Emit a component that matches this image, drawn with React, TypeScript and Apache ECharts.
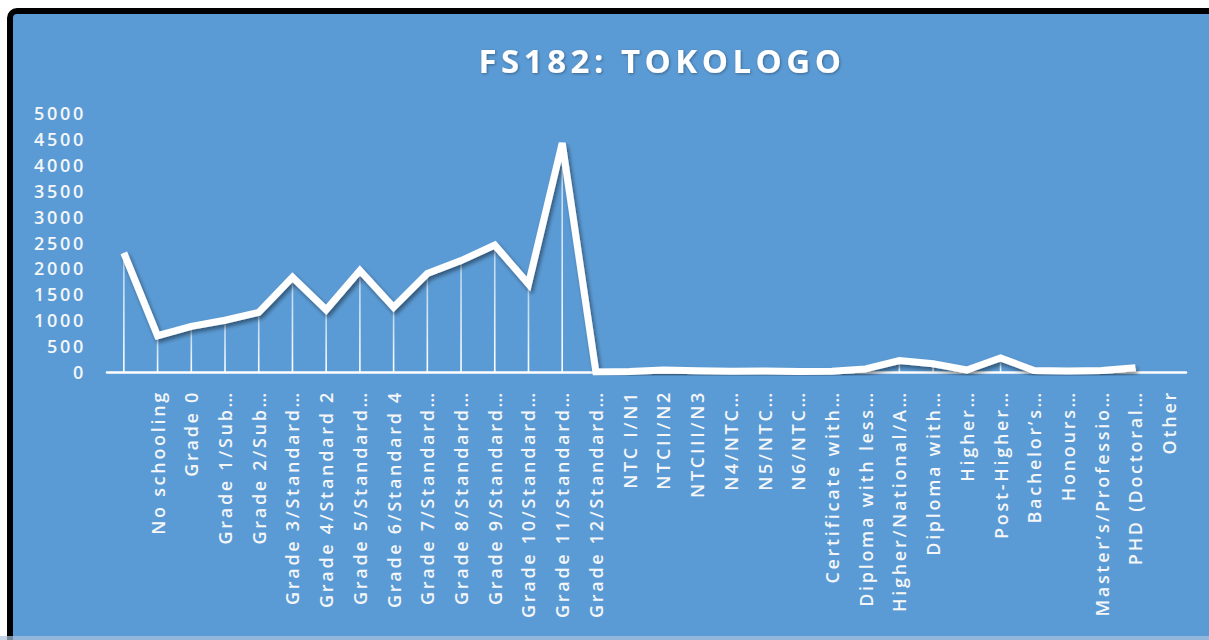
import React, { useEffect, useRef } from "react";
import * as echarts from "echarts";

const categories: string[] = [
  "",
  "No schooling",
  "Grade 0",
  "Grade 1/Sub…",
  "Grade 2/Sub…",
  "Grade 3/Standard…",
  "Grade 4/Standard 2",
  "Grade 5/Standard…",
  "Grade 6/Standard 4",
  "Grade 7/Standard…",
  "Grade 8/Standard…",
  "Grade 9/Standard…",
  "Grade 10/Standard…",
  "Grade 11/Standard…",
  "Grade 12/Standard…",
  "NTC I/N1",
  "NTCII/N2",
  "NTCIII/N3",
  "N4/NTC…",
  "N5/NTC…",
  "N6/NTC…",
  "Certificate with…",
  "Diploma with less…",
  "Higher/National/A…",
  "Diploma with…",
  "Higher…",
  "Post-Higher…",
  "Bachelor’s…",
  "Honours…",
  "Master’s/Professio…",
  "PHD (Doctoral…",
  "Other",
];

const values: (number | null)[] = [
  2300, 700, 880, 1000, 1150, 1830, 1200, 1960, 1250, 1900, 2150, 2450, 1700,
  4420, 0, 10, 40, 25, 15, 20, 10, 15, 60, 220, 160, 40, 270, 30, 20, 30, 80,
  null,
];

const yTicks = { min: 0, max: 5000, interval: 500 };
const chartTitle = "FS182: TOKOLOGO";

export default function App() {
  const ref = useRef<HTMLDivElement>(null);

  useEffect(() => {
    if (!ref.current) return;
    const chart = echarts.init(ref.current, undefined, { renderer: "svg" });
    const textColor = "#F4F6F8";
    chart.setOption({
      animation: false,
      backgroundColor: "transparent",
      graphic: [
        {
          type: "text",
          x: 662,
          y: 60,
          style: {
            text: chartTitle,
            fill: "#ffffff",
            font: "bold 33px 'Open Sans'",
            textAlign: "center",
            textVerticalAlign: "middle",
            textShadowColor: "rgba(0,0,0,0.35)",
            textShadowBlur: 3,
            textShadowOffsetX: 1,
            textShadowOffsetY: 1,
          },
        },
      ],
      grid: { left: 107, right: 23, top: 113, bottom: 268 },
      xAxis: {
        type: "category",
        data: categories,
        boundaryGap: true,
        axisLine: { show: true, lineStyle: { color: "#ffffff", width: 2.5 } },
        axisTick: { show: false },
        axisLabel: {
          interval: 0,
          rotate: 90,
          margin: 18,
          color: textColor,
          fontFamily: "Open Sans",
          fontWeight: 600,
          fontSize: 18,
        },
        splitLine: { show: false },
      },
      yAxis: {
        type: "value",
        min: yTicks.min,
        max: yTicks.max,
        interval: yTicks.interval,
        axisLine: { show: false },
        axisTick: { show: false },
        splitLine: { show: false },
        axisLabel: {
          margin: 21,
          color: textColor,
          fontFamily: "Open Sans",
          fontWeight: 600,
          fontSize: 18,
          formatter: (v: number) => String(v),
        },
      },
      series: [
        {
          type: "bar",
          data: values,
          barWidth: 1.6,
          silent: true,
          itemStyle: {
            color: new echarts.graphic.LinearGradient(0, 0, 0, 1, [
              { offset: 0, color: "rgba(255,255,255,0.55)" },
              { offset: 1, color: "rgba(255,255,255,1)" },
            ]),
          },
        },
        {
          type: "line",
          data: values,
          symbol: "none",
          lineStyle: {
            color: "#ffffff",
            width: 7,
            join: "miter",
            shadowColor: "rgba(0,0,0,0.45)",
            shadowBlur: 4,
            shadowOffsetX: 2,
            shadowOffsetY: 3,
          },
        },
      ],
    });
    return () => chart.dispose();
  }, []);

  return (
    <div
      style={{
        position: "fixed",
        left: 0,
        top: 0,
        width: 1209,
        height: 640,
        background: "#ffffff",
        overflow: "hidden",
      }}
    >
      <style>{`
        .chartbox text { letter-spacing: 2.7px; }
        .chartbox text[style*="bold"] { letter-spacing: 4.5px; }
      `}</style>
      <div
        style={{
          position: "absolute",
          left: 7,
          top: 8,
          width: 1260,
          height: 660,
          background: "#5B9BD5",
          border: "6px solid #000",
          borderRadius: 10,
        }}
      />
      <div
        style={{
          position: "absolute",
          left: 0,
          top: 636,
          width: 1209,
          height: 4,
          background: "rgba(170,195,220,0.7)",
        }}
      />
      <div
        ref={ref}
        className="chartbox"
        style={{ position: "absolute", left: 0, top: 0, width: 1209, height: 640 }}
      />
    </div>
  );
}
